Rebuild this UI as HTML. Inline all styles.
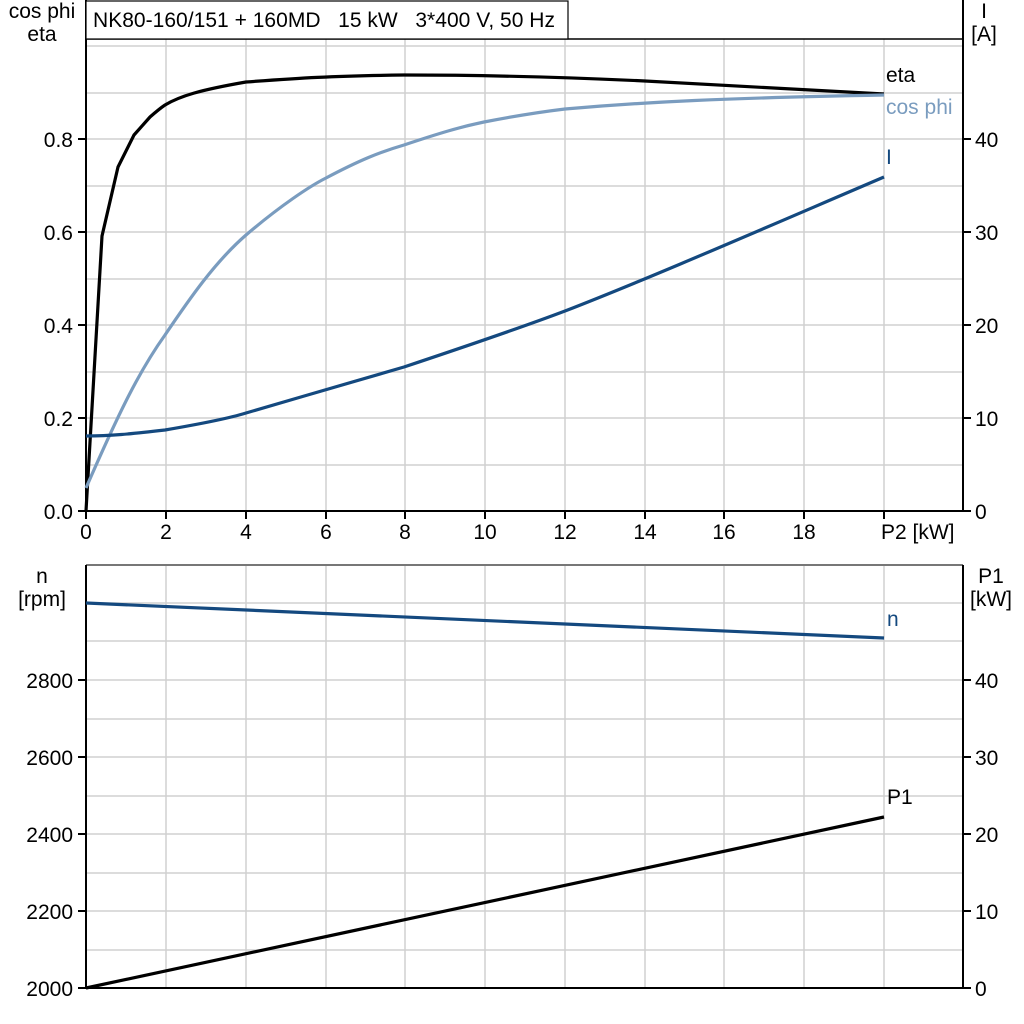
<!DOCTYPE html>
<html><head><meta charset="utf-8"><style>body{margin:0;background:#fff}svg{display:block}text{font-family:"Liberation Sans",Arial,sans-serif;font-size:21px;fill:#000}</style></head><body>
<svg width="1024" height="1024" viewBox="0 0 1024 1024">
<g stroke="#d0d0d0" stroke-width="1.5" fill="none">
<path d="M166 39V511M246 39V511M326 39V511M405 39V511M485 39V511M565 39V511M645 39V511M724 39V511M804 39V511M884 39V511"/>
<path d="M86 46H963M86 93H963M86 139H963M86 186H963M86 232H963M86 279H963M86 325H963M86 372H963M86 418H963M86 465H963"/>
<path d="M166 565V988M246 565V988M326 565V988M405 565V988M485 565V988M565 565V988M645 565V988M724 565V988M804 565V988M884 565V988"/>
<path d="M86 603H963M86 641H963M86 680H963M86 719H963M86 757H963M86 796H963M86 834H963M86 873H963M86 911H963M86 950H963"/>
</g>
<path d="M86 39H963" stroke="#000" stroke-width="1.5"/>
<path d="M86 565H963" stroke="#777" stroke-width="2"/>
<g stroke="#000" stroke-width="2" fill="none">
<path d="M86 0V511H963V0"/>
<path d="M86 565V988H963V565"/>
<path d="M78 139H86M78 232H86M78 325H86M78 418H86M78 511H86"/>
<path d="M963 139H971M963 232H971M963 325H971M963 418H971M963 511H971"/>
<path d="M86 511V519M166 511V519M246 511V519M326 511V519M405 511V519M485 511V519M565 511V519M645 511V519M724 511V519M804 511V519M884 511V519"/>
<path d="M78 680H86M78 757H86M78 834H86M78 911H86M78 988H86"/>
<path d="M963 680H971M963 757H971M963 834H971M963 911H971M963 988H971"/>
</g>
<rect x="86" y="1" width="482" height="38" fill="#fff" stroke="#000" stroke-width="1.2"/>
<text x="93" y="27" style="font-size:21px" textLength="462" lengthAdjust="spacing" xml:space="preserve">NK80-160/151 + 160MD   15 kW   3*400 V, 50 Hz</text>
<g fill="none" stroke-width="3.2" stroke-linejoin="round">
<path stroke="#000" d="M86,511 L102,236 L118,167 L134,135 L150,117 C158,110 162,107 165,105 C180,96 200,90 246,82 C300,78 330,76 404,75 C480,75 560,77 645,81 C724,85 804,89 884,94"/>
<path stroke="#7a9cbf" d="M86,488 C120,410 140,370 165,335 C190,298 215,262 246,235 C280,206 310,186 326,178 C360,160 380,152 404,145 C440,133 460,127 484,122 C520,115 540,112 565,109 C645,102 724,98 884,95"/>
<path stroke="#14497f" d="M86,436 C110,436 130,434 165,430 C200,424 230,418 246,413 C300,397 340,386 404,367 C470,345 520,328 565,311 C650,278 760,230 884,177"/>
<polyline stroke="#14497f" points="86,603 884,638"/>
<polyline stroke="#000" points="86,988 884,817"/>
</g>
<g text-anchor="end">
<text x="73" y="147">0.8</text><text x="73" y="240">0.6</text><text x="73" y="333">0.4</text><text x="73" y="426">0.2</text><text x="73" y="519">0.0</text>
<text x="73" y="688">2800</text><text x="73" y="765">2600</text><text x="73" y="842">2400</text><text x="73" y="919">2200</text><text x="73" y="996">2000</text>
</g>
<g text-anchor="start">
<text x="975" y="147">40</text><text x="975" y="240">30</text><text x="975" y="333">20</text><text x="975" y="426">10</text><text x="975" y="519">0</text>
<text x="975" y="688">40</text><text x="975" y="765">30</text><text x="975" y="842">20</text><text x="975" y="919">10</text><text x="975" y="996">0</text>
</g>
<g text-anchor="middle">
<text x="86" y="539">0</text><text x="166" y="539">2</text><text x="246" y="539">4</text><text x="326" y="539">6</text><text x="405" y="539">8</text><text x="485" y="539">10</text><text x="565" y="539">12</text><text x="645" y="539">14</text><text x="724" y="539">16</text><text x="804" y="539">18</text>
<text x="42" y="18">cos phi</text><text x="42" y="41">eta</text>
<text x="984" y="18">I</text><text x="984" y="41">[A]</text>
<text x="42" y="583">n</text><text x="42" y="606">[rpm]</text>
<text x="991" y="583">P1</text><text x="991" y="606">[kW]</text>
</g>
<text x="881" y="539">P2 [kW]</text>
<text x="886" y="82">eta</text>
<text x="886" y="114" style="fill:#7a9cbf">cos phi</text>
<text x="886" y="164" style="fill:#14497f">I</text>
<text x="887" y="626" style="fill:#14497f">n</text>
<text x="887" y="804">P1</text>
</svg>
</body></html>
